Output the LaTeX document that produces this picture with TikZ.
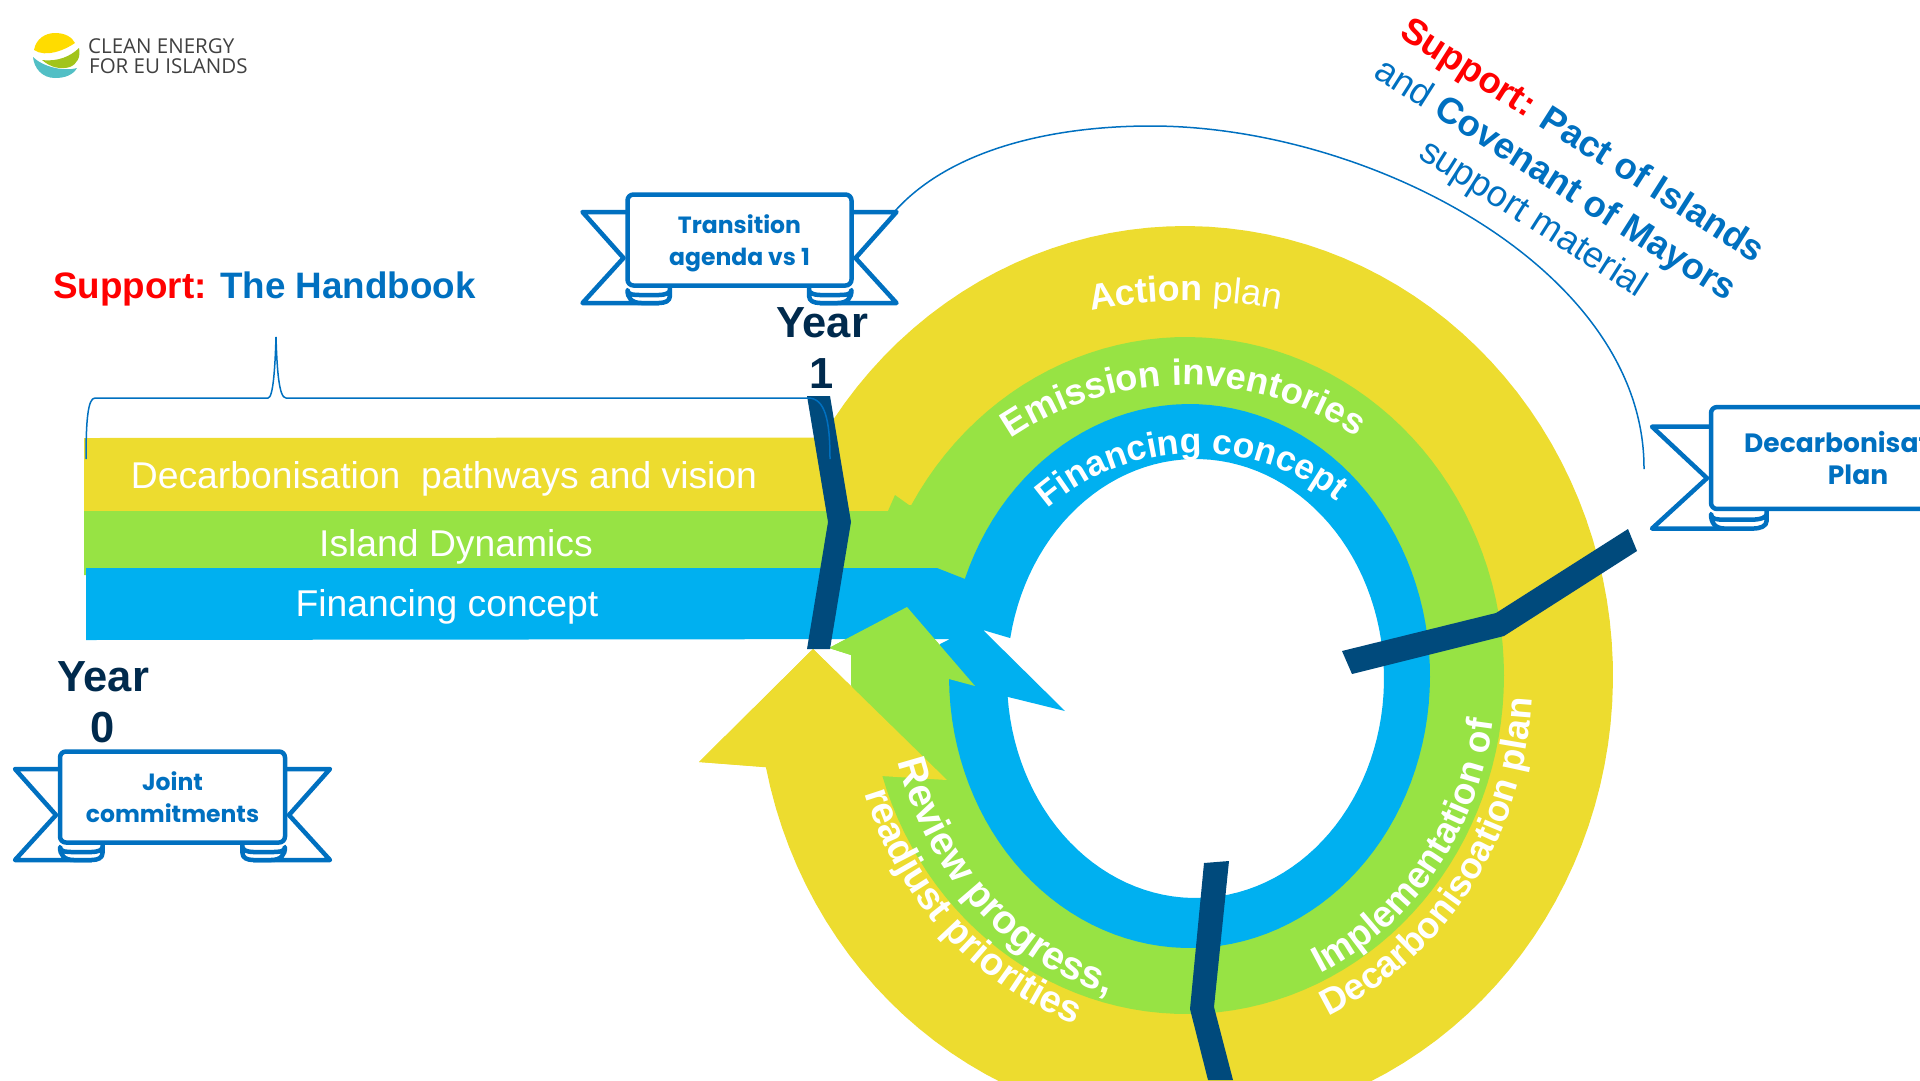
\documentclass[tikz,border=0pt]{standalone}
\usepackage{fontspec}
\setmainfont{Liberation Sans}
\newfontfamily\bannerfont{Poppins}
\newfontfamily\logofont{Open Sans}
\usetikzlibrary{decorations.text}
\definecolor{bandyellow}{HTML}{EDDC2F}
\definecolor{bandgreen}{HTML}{97E344}
\definecolor{bandblue}{HTML}{00B0F0}
\definecolor{barblue}{HTML}{004A7C}
\definecolor{linkblue}{HTML}{0070C0}
\definecolor{yeardark}{HTML}{002A4D}
\definecolor{logoyellow}{HTML}{FFDC00}
\definecolor{logogreen}{HTML}{A2C41B}
\definecolor{logoteal}{HTML}{52BFC5}
\tikzset{
  barlabel/.style={text=white,font=\fontsize{37.3}{40}\selectfont,anchor=base},
  yearlabel/.style={text=yeardark,font=\fontsize{43.5}{51}\selectfont\bfseries,align=center,anchor=base},
  supportlabel/.style={font=\fontsize{36.5}{40}\selectfont,anchor=base west,rotate=-32.5,text=linkblue,inner sep=0pt},
  logolabel/.style={anchor=base west,inner sep=0pt,text=black!75,font=\logofont\fontsize{20.5}{24}\selectfont},
  bannerline/.style={draw=linkblue,line width=4.5pt,line join=round,line cap=round,fill=white},
  bannertext/.style={text=linkblue,align=center,text depth=0pt},
  ringtext/.style={decorate,decoration={text along path,raise=0pt,text color=white,
    text={#1}}}
}
% one ellipse arc: cx, rx, cy, ry, from, to
\newcommand{\ringarc}[6]{-- plot[domain=#5:#6,samples=120] ({#1+#2*cos(\x)},{#3+#4*sin(\x)})}
\newcommand{\ringpath}[6]{plot[domain=#5:#6,samples=120] ({#1+#2*cos(\x)},{#3+#4*sin(\x)})}
% banner: name, cx, cy, half widths of box and tail, text, yscale, font size
\newcommand{\ribbon}[8]{
  \begin{scope}[shift={(#2,#3)},yscale=#7]
  \draw[bannerline] (-#4,-28) -- (-#5,-28) -- (-#4-4,18) -- (-#5,63) -- (-#4+0.2*#5,63);
  \draw[bannerline] (#4,-28) -- (#5,-28) -- (#4+4,18) -- (#5,63) -- (#4-0.2*#5,63);
  \foreach \side in {-1,1} {
    \draw[bannerline] ({\side*(#4-0.27*#5)},46) -- ({\side*(#4-0.27*#5)},56)
      .. controls ({\side*(#4-0.27*#5)},61) and ({\side*(#4-0.24*#5)},63) .. ({\side*(#4-0.2*#5)},63)
      -- ({\side*(#4-14)},63) .. controls ({\side*(#4-4)},63) and ({\side*#4},58) .. ({\side*#4},50)
      .. controls ({\side*#4},55) and ({\side*(#4-6)},55) .. ({\side*(#4-14)},55)
      -- ({\side*(#4-0.2*#5)},55) .. controls ({\side*(#4-0.24*#5)},55) and ({\side*(#4-0.27*#5)},53) .. ({\side*(#4-0.27*#5)},50);
  }
  \draw[bannerline,rounded corners=6pt] (-#4,-45.5) rectangle (#4,45.5);
  \node[bannertext,font=\bannerfont\bfseries\fontsize{#8}{32}\selectfont] (#1) at (0,0) {#6};
  \end{scope}
}
\begin{document}
\begin{tikzpicture}[x=1pt,y=-1pt]
\useasboundingbox (0,0) rectangle (1920,1080);

% logo
\fill[logoyellow] (34,50) .. controls (36,39) and (45,33) .. (55,33) .. controls (65,33) and (72,37) .. (75,43)
  .. controls (65,50) and (46,58) .. (34,50) -- cycle;
\fill[logogreen] (42,60) .. controls (58,62) and (71,56) .. (79,48) .. controls (81,57) and (77,64) .. (70,67)
  .. controls (60,70) and (50,67) .. (42,60) -- cycle;
\fill[logoteal] (33,57) .. controls (42,66) and (62,72) .. (77,68) .. controls (73,75) and (65,78) .. (55,78)
  .. controls (42,78) and (34,68) .. (33,57) -- cycle;
\node[logolabel] (logotop) at (88,53) {CLEAN ENERGY};
\node[logolabel] (logobottom) at (89,73) {FOR EU ISLANDS};

% rings, back to front
\fill[bandyellow] (84,438) \ringarc{1185}{428}{676}{450}{212}{528.3} -- (699,762) -- (813,649) -- (947,780) -- (881,776)
  \ringarc{1186}{308}{675.5}{328.5}{522.9}{210.2} -- (895,518) -- (84,518) -- cycle;
\fill[bandgreen] (84,511) -- (888,511) -- (895,495) -- (909,505) \ringarc{1186}{318}{675.5}{338.5}{210.2}{522.9}
  -- (851,685) -- (851,655) -- (829,648) -- (907,607) -- (975,686) -- (949,679)
  \ringarc{1189.5}{230}{676}{262}{539.4}{200.9} -- (937,575) -- (84,575) -- cycle;
\fill[bandblue,even odd rule] (86,568) -- (937,568) -- (965,579) \ringarc{1189.5}{240.5}{676}{272}{200.9}{539.4}
  -- (938,650) -- (940,644) -- (950,639) -- (86,640) -- cycle
  (1010,638) \ringarc{1195.5}{188.5}{678.5}{219.5}{190.7}{535.2} -- (1065,711) -- (983,630) -- cycle;
\fill[bandgreen] (851,655) -- (829,648) -- (907,607) -- (975,686) -- (949,679) -- (851,685) -- cycle;
\fill[bandyellow] (766,767) -- (699,762) -- (813,649) -- (947,780) -- (881,776) -- cycle;

% year marks
\fill[barblue] (807,396) -- (830,396) -- (851,522) -- (830,649) -- (807,649) -- (828,522) -- cycle;
\fill[barblue] (1342,651) -- (1496,613) -- (1628,529) -- (1637,551) -- (1504,636) -- (1352,674) -- cycle;
\fill[barblue] (1204,863) -- (1229,861) -- (1214,1007) -- (1233,1080) -- (1208,1080) -- (1190,1009) -- cycle;

% bar labels
\node[barlabel] (pathways) at (444,488) {Decarbonisation\ \ pathways and vision};
\node[barlabel] (dynamics) at (456,556) {Island Dynamics};
\node[barlabel] (financing) at (447,616) {Financing concept};

% ring labels
\path[ringtext={|\fontsize{36}{40}\selectfont\bfseries|Action |\fontsize{36}{40}\selectfont\mdseries|plan}]
  \ringpath{1188}{430}{676}{375}{257}{300};
\path[ringtext={|\fontsize{36.5}{40}\selectfont\bfseries|Emission inventories}]
  \ringpath{1185}{300}{676}{291}{234.5}{325};
\path[ringtext={|\fontsize{35.5}{40}\selectfont\bfseries|Financing concept}]
  \ringpath{1197}{225}{676}{223}{228.5}{330};
\path[ringtext={|\fontsize{37}{40}\selectfont\bfseries|Implementation of}]
  \ringpath{1188}{308}{676}{330}{64.5}{-15};
\path[ringtext={|\fontsize{36.7}{40}\selectfont\bfseries|Decarbonisoation plan}]
  \ringpath{1188}{345}{676}{372}{66}{-15};
\path[ringtext={|\fontsize{39.7}{40}\selectfont\bfseries|Review progress,}]
  \ringpath{1188}{300}{676}{330}{165}{70};
\path[ringtext={|\fontsize{38.3}{40}\selectfont\bfseries|readjust priorities}]
  \ringpath{1188}{341}{676}{369}{161.5}{80};

% year labels
\node[yearlabel] (yearone) at (822,388) {Year\\1};
\node[yearlabel] (yearzero) at (103,742) {Year\\0};

% support labels
\node[anchor=base west,inner sep=0pt,font=\fontsize{36.8}{40}\selectfont\bfseries] (handbook) at (53,298)
  {\textcolor{red}{Support:} \textcolor{linkblue}{The Handbook}};
\node[supportlabel] (pact) at (1398,36) {\bfseries\textcolor{red}{Support:} Pact of Islands};
\node[supportlabel] (covenant) at (1372,76) {and \bfseries Covenant of Mayors};
\node[supportlabel] (material) at (1417,157) {support material};

% brace and link
\coordinate (bracestart) at (86,459);
\coordinate (bracetip) at (276,337);
\coordinate (braceend) at (830,459);
\draw[linkblue,line width=1.5pt] (bracestart) .. controls (86,420) and (88,398) .. (95,398) -- (268,398)
  .. controls (273,398) and (275,370) .. (bracetip) .. controls (277,370) and (279,398) .. (286,398) -- (808,398)
  .. controls (825,398) and (830,420) .. (braceend);
\coordinate (linkstart) at (895,211);
\coordinate (linkapex) at (1151,126);
\coordinate (linkend) at (1644,469);
\draw[linkblue,line width=1.5pt] (linkstart) .. controls (950,150) and (1050,126) .. (linkapex)
  .. controls (1370,126) and (1645,270) .. (linkend);

% banners
\ribbon{joint}{172.5}{797}{112.5}{157.5}{Joint\\commitments}{1}{23.5}
\ribbon{agenda}{739.5}{240}{112}{157}{Transition\\agenda vs 1}{1}{23.5}
\ribbon{plan}{1858}{458}{147}{206}{Decarbonisation\\Plan}{1.12}{26.5}
\end{tikzpicture}
\end{document}
